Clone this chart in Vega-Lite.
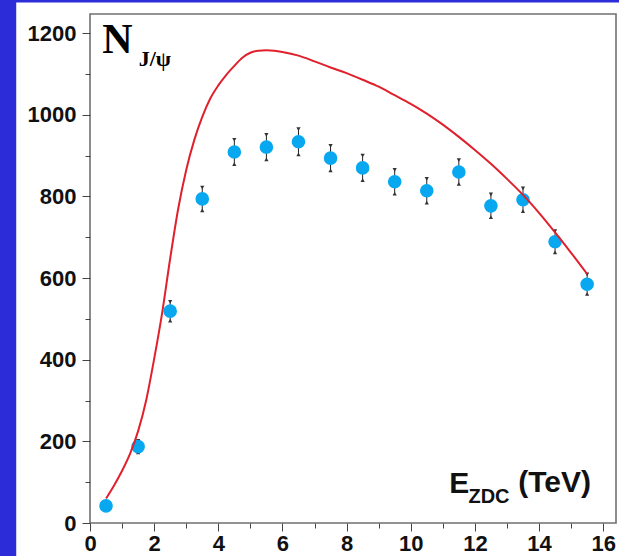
{
  "$schema": "https://vega.github.io/schema/vega-lite/v6.json",
  "width": 526,
  "height": 509,
  "autosize": {"type": "none"},
  "padding": {"left": 90, "top": 14, "right": 3, "bottom": 33},
  "background": "#2c2cd8",
  "datasets": {
    "points": [
      {"e": 0.5, "n": 42, "lo": 35, "hi": 49},
      {"e": 1.5, "n": 187, "lo": 173, "hi": 201},
      {"e": 2.5, "n": 519, "lo": 496, "hi": 542},
      {"e": 3.5, "n": 794, "lo": 766, "hi": 822},
      {"e": 4.5, "n": 909, "lo": 879, "hi": 939},
      {"e": 5.5, "n": 921, "lo": 891, "hi": 951},
      {"e": 6.5, "n": 934, "lo": 903, "hi": 965},
      {"e": 7.5, "n": 894, "lo": 864, "hi": 924},
      {"e": 8.5, "n": 870, "lo": 840, "hi": 900},
      {"e": 9.5, "n": 836, "lo": 807, "hi": 865},
      {"e": 10.5, "n": 814, "lo": 785, "hi": 843},
      {"e": 11.5, "n": 860, "lo": 831, "hi": 889},
      {"e": 12.5, "n": 777, "lo": 749, "hi": 805},
      {"e": 13.5, "n": 792, "lo": 764, "hi": 820},
      {"e": 14.5, "n": 689, "lo": 663, "hi": 715},
      {"e": 15.5, "n": 585, "lo": 561, "hi": 609}
    ],
    "curve": [
      {"e": 0.5, "n": 60},
      {"e": 0.75, "n": 92},
      {"e": 1.0, "n": 128},
      {"e": 1.25, "n": 170},
      {"e": 1.5, "n": 225},
      {"e": 1.75, "n": 300},
      {"e": 2.0, "n": 402},
      {"e": 2.25, "n": 515},
      {"e": 2.5, "n": 648},
      {"e": 2.75, "n": 770},
      {"e": 3.0, "n": 865},
      {"e": 3.25, "n": 938},
      {"e": 3.5, "n": 995},
      {"e": 3.75, "n": 1040},
      {"e": 4.0, "n": 1072},
      {"e": 4.25, "n": 1098},
      {"e": 4.5, "n": 1120},
      {"e": 4.75, "n": 1140},
      {"e": 5.0, "n": 1152},
      {"e": 5.25, "n": 1157},
      {"e": 5.5, "n": 1158},
      {"e": 5.75, "n": 1157},
      {"e": 6.0, "n": 1154},
      {"e": 6.5, "n": 1145},
      {"e": 7.0, "n": 1131},
      {"e": 7.5, "n": 1116},
      {"e": 8.0, "n": 1102},
      {"e": 8.5, "n": 1086},
      {"e": 9.0, "n": 1069},
      {"e": 9.5, "n": 1048},
      {"e": 10.0, "n": 1027},
      {"e": 10.5, "n": 1003},
      {"e": 11.0, "n": 976},
      {"e": 11.5, "n": 946},
      {"e": 12.0, "n": 914},
      {"e": 12.5, "n": 880},
      {"e": 13.0, "n": 843},
      {"e": 13.5, "n": 804},
      {"e": 14.0, "n": 760},
      {"e": 14.5, "n": 712},
      {"e": 15.0, "n": 662},
      {"e": 15.5, "n": 610}
    ]
  },
  "layer": [
    {
      "data": {"values": [{}]},
      "mark": {"type": "rect", "fill": "white", "stroke": null},
      "encoding": {
        "x": {"datum": -2.3, "scale": {"domain": [0, 16.4], "nice": false, "zero": false}},
        "x2": {"datum": 17},
        "y": {"datum": -100, "scale": {"domain": [0, 1247], "nice": false, "zero": false}},
        "y2": {"datum": 1275}
      }
    },
    {
      "data": {"name": "points"},
      "mark": {"type": "rule", "color": "#222", "strokeWidth": 1},
      "encoding": {
        "x": {"field": "e", "type": "quantitative", "title": null, "scale": {"domain": [0, 16.4], "nice": false, "zero": false}, "axis": {"zindex": 1}},
        "y": {"field": "lo", "type": "quantitative", "title": null, "scale": {"domain": [0, 1247], "nice": false, "zero": false}, "axis": {"zindex": 1}},
        "y2": {"field": "hi"}
      }
    },
    {
      "data": {"name": "points"},
      "mark": {"type": "point", "shape": "triangle-down", "filled": true, "color": "#333", "size": 18, "opacity": 1},
      "encoding": {
        "x": {"field": "e", "type": "quantitative", "title": null},
        "y": {"field": "hi", "type": "quantitative", "title": null}
      }
    },
    {
      "data": {"name": "points"},
      "mark": {"type": "point", "shape": "triangle-up", "filled": true, "color": "#333", "size": 18, "opacity": 1},
      "encoding": {
        "x": {"field": "e", "type": "quantitative", "title": null},
        "y": {"field": "lo", "type": "quantitative", "title": null}
      }
    },
    {
      "data": {"name": "points"},
      "mark": {"type": "circle", "color": "#07a8f0", "size": 185, "opacity": 1},
      "encoding": {
        "x": {"field": "e", "type": "quantitative", "title": null},
        "y": {"field": "n", "type": "quantitative", "title": null}
      }
    },
    {
      "data": {"name": "curve"},
      "mark": {"type": "line", "color": "#e0202c", "strokeWidth": 2, "interpolate": "monotone"},
      "encoding": {
        "x": {"field": "e", "type": "quantitative", "title": null},
        "y": {"field": "n", "type": "quantitative", "title": null}
      }
    },
    {
      "data": {"values": [{}]},
      "mark": {"type": "rect", "fill": null, "stroke": "#707070", "strokeWidth": 1.6},
      "encoding": {
        "x": {"datum": 0},
        "x2": {"datum": 16.4},
        "y": {"datum": 0},
        "y2": {"datum": 1247}
      }
    },
    {
      "data": {"values": [{}]},
      "mark": {"type": "text", "text": "N", "font": "Liberation Serif", "fontWeight": "bold", "fontSize": 42, "align": "left", "baseline": "alphabetic", "color": "black"},
      "encoding": {"x": {"datum": 0.38}, "y": {"datum": 1151}}
    },
    {
      "data": {"values": [{}]},
      "mark": {"type": "text", "text": "J/ψ", "font": "Liberation Serif", "fontWeight": "bold", "fontSize": 22, "align": "left", "baseline": "alphabetic", "color": "black"},
      "encoding": {"x": {"datum": 1.52}, "y": {"datum": 1120}}
    },
    {
      "data": {"values": [{}]},
      "mark": {"type": "text", "text": "E", "font": "Liberation Sans", "fontWeight": "bold", "fontSize": 30, "align": "left", "baseline": "alphabetic", "color": "#111"},
      "encoding": {"x": {"datum": 11.2}, "y": {"datum": 73}}
    },
    {
      "data": {"values": [{}]},
      "mark": {"type": "text", "text": "ZDC", "font": "Liberation Sans", "fontWeight": "bold", "fontSize": 20, "align": "left", "baseline": "alphabetic", "color": "#111"},
      "encoding": {"x": {"datum": 11.8}, "y": {"datum": 50}}
    },
    {
      "data": {"values": [{}]},
      "mark": {"type": "text", "text": "(TeV)", "font": "Liberation Sans", "fontWeight": "bold", "fontSize": 30, "align": "left", "baseline": "alphabetic", "color": "#111"},
      "encoding": {"x": {"datum": 13.35}, "y": {"datum": 75}}
    }
  ],
  "config": {
    "view": {"stroke": null},
    "axis": {"titleOpacity": 0, "grid": false, "domain": false},
    "axisX": {
      "values": [0,0.5,1,1.5,2,2.5,3,3.5,4,4.5,5,5.5,6,6.5,7,7.5,8,8.5,9,9.5,10,10.5,11,11.5,12,12.5,13,13.5,14,14.5,15,15.5,16],
      "labelExpr": "datum.value % 2 === 0 ? '' + datum.value : ''",
      "tickSize": {"condition": {"test": "datum.value % 2 === 0", "value": 8}, "value": 5},
      "tickColor": "#444",
      "labelFont": "Liberation Sans",
      "labelFontWeight": "bold",
      "labelFontSize": 22,
      "labelColor": "#111",
      "labelPadding": 2,
      "labelFlush": false,
      "labelOverlap": false
    },
    "axisY": {
      "values": [0,50,100,150,200,250,300,350,400,450,500,550,600,650,700,750,800,850,900,950,1000,1050,1100,1150,1200],
      "labelExpr": "datum.value % 200 === 0 ? '' + datum.value : ''",
      "tickSize": {"condition": {"test": "datum.value % 200 === 0", "value": 8}, "value": 5},
      "tickColor": "#444",
      "labelFont": "Liberation Sans",
      "labelFontWeight": "bold",
      "labelFontSize": 22,
      "labelColor": "#111",
      "labelPadding": 6,
      "labelFlush": false,
      "labelOverlap": false
    }
  }
}
